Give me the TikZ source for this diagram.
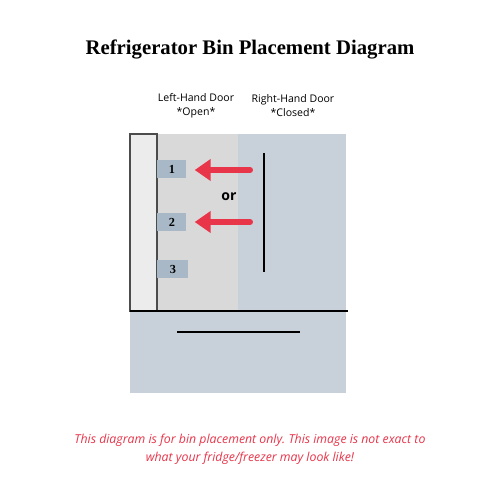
\documentclass[tikz,border=0pt]{standalone}
\usepackage{fontspec}
\setmainfont{Open Sans}
\newfontfamily\titlefont{Liberation Serif}
\newfontfamily\binfont{Liberation Serif}
\usepackage{xcolor}
\usetikzlibrary{positioning,arrows.meta}
\frenchspacing
\definecolor{shelfgray}{HTML}{D9D9D9}
\definecolor{bodyblue}{HTML}{C8D0D9}
\definecolor{doorwhite}{HTML}{ECECEC}
\definecolor{binblue}{HTML}{A8B8C6}
\definecolor{alertred}{HTML}{E8354A}
\tikzset{
  bin/.style={rectangle, fill=binblue, inner sep=0pt, minimum height=0.36cm, font=\binfont\bfseries\fontsize{7}{8}\selectfont},
  doorlabel/.style={align=center, font=\fontsize{6}{8.2}\selectfont},
  handle/.style={line width=1.7pt},
  binarrow/.style={alertred, line width=3.4pt, line cap=round, -{Triangle[length=0.32cm,width=0.42cm]}, shorten >=0.16cm}
}

\begin{document}
\begin{tikzpicture}[x=0.02cm, y=-0.02cm]
    \useasboundingbox[fill=white] (0,0) rectangle (500,500);
    \node[font=\titlefont\bfseries\fontsize{11.8}{14}\selectfont] (title) at (250,49) {Refrigerator Bin Placement Diagram};
    \node[doorlabel] (leftlabel) at (196,105.5) {Left-Hand Door\\*Open*};
    \node[doorlabel] (rightlabel) at (293,105.5) {Right-Hand Door\\*Closed*};
    \fill[shelfgray] (157,134) rectangle (238,311);
    \fill[bodyblue] (238,134) rectangle (346,311);
    \fill[bodyblue] (130,311) rectangle (346,393);
    \draw[fill=doorwhite, draw=black!70, line width=0.6pt] (130,134) rectangle (157,311);
    \draw[line width=0.6pt] (130,311) -- (348,311);
    \draw[handle] (264,153) -- (264,272);
    \draw[handle] (177,332) -- (300,332);
    \foreach \n/\y/\w in {1/169/0.58cm, 2/222/0.58cm, 3/269/0.62cm} {
        \node[bin, minimum width=\w, anchor=west] (bin\n) at (157,\y) {\n};
    }
    \coordinate (from1) at (250,170);
    \coordinate (from2) at (250,222);
    \draw[binarrow] (from1) -- (bin1.east |- from1);
    \draw[binarrow] (from2) -- (bin2.east |- from2);
    \node[font=\bfseries\fontsize{8}{10}\selectfont] (orlabel) at (229,197) {or};
    \node[align=center, text=alertred, font=\itshape\fontsize{7}{10.2}\selectfont] (note) at (250,449) {This diagram is for bin placement only. This image is not exact to\\what your fridge/freezer may look like!};
\end{tikzpicture}
\end{document}
